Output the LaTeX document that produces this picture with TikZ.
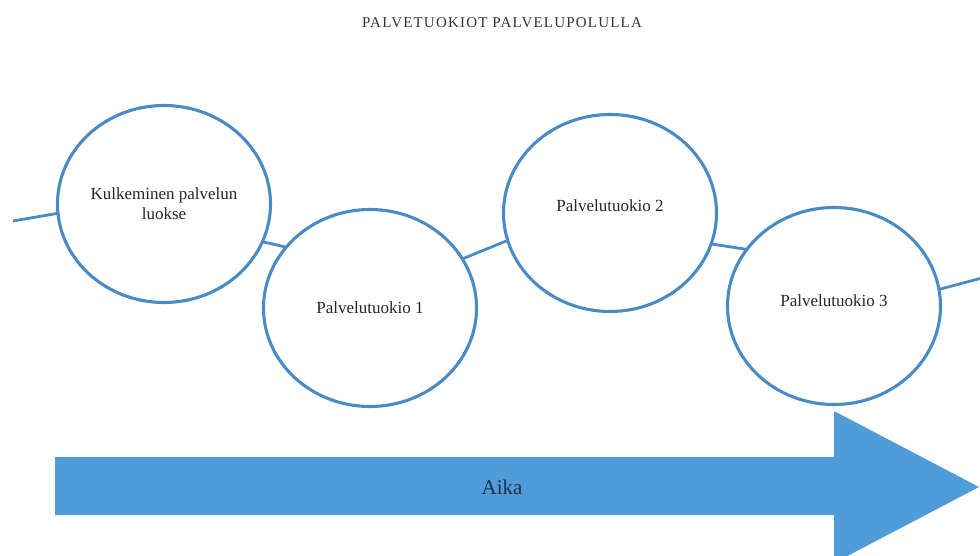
\documentclass[tikz,border=0pt]{standalone}
\usepackage{fontspec}
\setmainfont{Liberation Serif}
\usetikzlibrary{shapes.geometric}
\definecolor{ring}{HTML}{4A8BC3}
\definecolor{arrowfill}{HTML}{4F9CD8}
\definecolor{navy}{HTML}{1B2F4F}
\begin{document}
\begin{tikzpicture}[x=1pt,y=-1pt,
  stage/.style={ellipse, draw=ring, line width=3.1pt, fill=white,
    minimum width=213pt, minimum height=197pt, inner sep=0pt, outer sep=0pt,
    align=center, font=\fontsize{17}{20}\selectfont, text=black!85},
  link/.style={draw=ring, line width=2.8pt},
  titletext/.style={font=\fontsize{15}{18}\selectfont\addfontfeatures{LetterSpace=8}, text=black!80},
  arrowtext/.style={font=\fontsize{21}{24}\selectfont, text=navy}]
\useasboundingbox (0,0) rectangle (980,556);
\clip (0,0) rectangle (980,556);
\node[titletext] (title) at (502,23) {PALVETUOKIOT PALVELUPOLULLA};
\node[stage] (c1) at (164,204) {Kulkeminen palvelun\\luokse};
\node[stage] (c2) at (370,308) {Palvelutuokio 1};
\node[stage] (c3) at (610,213) {\raisebox{14pt}{Palvelutuokio 2}};
\node[stage] (c4) at (834,306) {\raisebox{10pt}{Palvelutuokio 3}};
\coordinate (in) at (13,221);
\coordinate (out) at (982,278);
\draw[link] (in) -- (c1.185);
\draw[link] (c1.-21) -- (c2.144);
\draw[link] (c2.28) -- (c3.195);
\draw[link] (c3.-17) -- (c4.147);
\draw[link] (c4.9) -- (out);
\fill[arrowfill] (55,457) -- (834,457) -- (834,411) -- (979,487) -- (834,563) -- (834,515) -- (55,515) -- cycle;
\node[arrowtext] (aika) at (502,487) {Aika};
\end{tikzpicture}
\end{document}
